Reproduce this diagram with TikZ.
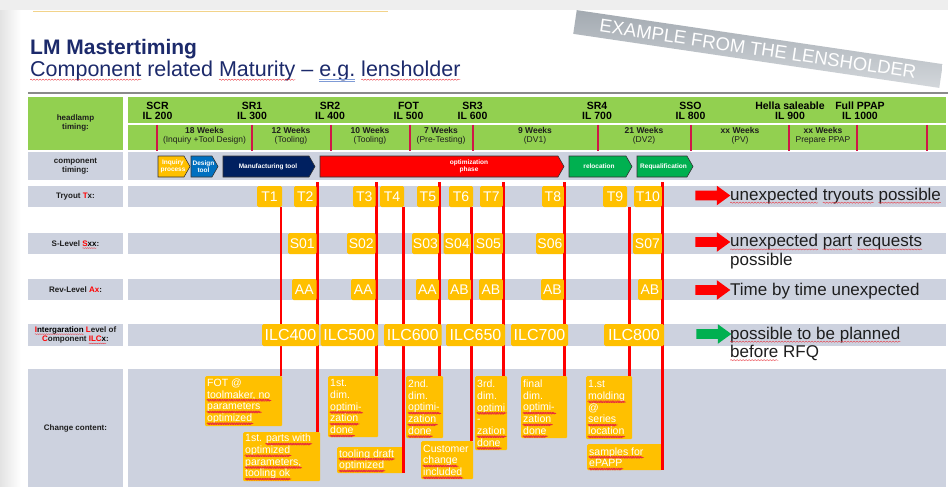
\documentclass[tikz,border=0pt]{standalone}
\usepackage{fontspec}
\setmainfont{Liberation Sans}
\usetikzlibrary{shapes.arrows,decorations.pathmorphing}

\definecolor{pagegray}{HTML}{EEEEEE}
\definecolor{titlenavy}{HTML}{1C2A6B}
\definecolor{hdrgreen}{HTML}{92D050}
\definecolor{rowgray}{HTML}{CDD2DF}
\definecolor{boxyellow}{HTML}{FFC000}
\definecolor{tickred}{HTML}{D01848}
\definecolor{chevblue}{HTML}{0070C0}
\definecolor{chevnavy}{HTML}{002060}
\definecolor{chevgreen}{HTML}{00B050}
\definecolor{darktext}{HTML}{1E1E1E}
\definecolor{egblue}{HTML}{7F9BD6}
\definecolor{rulegray}{HTML}{8A8A8A}
\definecolor{bannerdark}{HTML}{A3AAB1}
\definecolor{bannerlight}{HTML}{D3D7DB}
\definecolor{hairyellow}{HTML}{F2D38A}
\definecolor{wavered}{HTML}{E8303A}

\tikzset{
  lbl/.style={font=\fontsize{8}{9.3}\selectfont\bfseries, text=darktext, align=center, inner sep=0pt},
  ms/.style={font=\fontsize{10.5}{10}\selectfont\bfseries, text=black, inner sep=0pt, anchor=base},
  wkb/.style={font=\fontsize{8.5}{9}\selectfont\bfseries, text=darktext, inner sep=0pt, anchor=base},
  wkr/.style={font=\fontsize{8.5}{9}\selectfont, text=darktext, inner sep=0pt, anchor=base},
  chev/.style={draw=black!80, line width=0.6pt},
  chevtxt/.style={font=\fontsize{6.5}{7.3}\selectfont\bfseries, text=white, align=center, inner sep=0pt},
  ybox/.style={fill=boxyellow, rounded corners=1.5pt, text=white, inner sep=0pt, font=\fontsize{14}{16}\selectfont},
  ilcbox/.style={ybox, font=\fontsize{16}{18}\selectfont},
  cbox/.style={fill=boxyellow, rounded corners=1.2pt, text=white, inner xsep=2pt, inner ysep=0pt,
    anchor=north west, font=\fontsize{10.5}{11.7}\selectfont},
  redline/.style={draw=red, line width=2.6pt},
  note/.style={font=\fontsize{17}{19}\selectfont, text=darktext, inner sep=0pt, anchor=base west},
  bigarrow/.style={single arrow, minimum height=35pt, inner xsep=0pt, inner ysep=4.6pt,
    single arrow head extend=5pt, single arrow tip angle=72},
  banner/.style={rotate=-8.4, top color=bannerdark, bottom color=bannerlight, minimum width=370pt,
    minimum height=24pt, inner sep=0pt, text=white, font=\fontsize{18.5}{20}\selectfont},
  title1/.style={anchor=base west, inner sep=0pt, font=\fontsize{21}{24}\selectfont\bfseries, text=titlenavy},
  title2/.style={anchor=base west, inner sep=0pt, font=\fontsize{21.5}{24}\selectfont, text=titlenavy},
  wavyin/.style={inner sep=0pt, outer sep=0pt, minimum width=0pt, minimum height=0pt,
    fill=none, draw=none, rounded corners=0pt, shape=rectangle, anchor=base}
}

% red spell-check waves under a word: offset, amplitude, segment length, text
\newcommand\wavymark[4]{\tikz[baseline=(wvt.base)]{\node[wavyin] (wvt) {#4};%
  \draw[overlay, wavered, line width=0.35pt, decorate, decoration={snake, amplitude=#2pt, segment length=#3pt}]
    ([yshift=-#1pt]wvt.base west) -- ([yshift=-#1pt]wvt.base east);}}
\newcommand\wavy[1]{\wavymark{2.2}{0.45}{2.4}{#1}}
\newcommand\wavyb[1]{\wavymark{2.7}{0.6}{3}{#1}}
\newcommand\wavys[1]{\wavymark{1.7}{0.4}{2.2}{#1}}
\newcommand\egmark{\tikz[baseline=(egt.base)]{\node[wavyin] (egt) {e.g.};%
  \draw[overlay, egblue, line width=0.5pt] ([yshift=-2.4pt]egt.base west) -- ([yshift=-2.4pt]egt.base east)
    ([yshift=-4pt]egt.base west) -- ([yshift=-4pt]egt.base east);}}

% milestone label (two lines)
\newcommand\milestone[4]{\node[ms] (#1) at (#2,110) {#3};\node[ms] (#1-il) at (#2,119.5) {#4};}
% week span label (two lines)
\newcommand\weeks[4]{\node[wkb] (#1) at (#2,133) {#3};\node[wkr] (#1-sub) at (#2,142) {#4};}
% pentagon phase arrow: name, x1, x2, fill, text x, text
\newcommand\chevron[6]{\draw[chev, fill=#4] (#2,156) -- (#3-6,156) -- (#3,166.5) -- (#3-6,177) -- (#2,177) -- cycle;
  \node[chevtxt] (#1) at (#5,166.5) {#6};}
% yellow tag: [style] name, x1, x2, y1, y2, text
\newcommand\ybx[7][ybox]{\pgfmathsetmacro\yboxw{#4-#3}\pgfmathsetmacro\yboxh{#6-#5}%
  \node[#1, minimum width=\yboxw pt, minimum height=\yboxh pt] (#2) at ({(#3+#4)/2},{(#5+#6)/2}) {#7};}
% change-content box: name, x1, x2, y1, y2, text
\newcommand\cbx[6]{\pgfmathsetmacro\cboxw{#3-#2-4}\pgfmathsetmacro\cboxh{#5-#4}%
  \node[cbox, minimum height=\cboxh pt] (#1) at (#2,#4)
    {\parbox{\cboxw pt}{\raggedright\hyphenpenalty=10000 #6}};}

\begin{document}
\begin{tikzpicture}[x=1pt,y=-1pt]
\useasboundingbox (0,0) rectangle (948,487);

% page
\fill[white] (0,0) rectangle (948,487);
\fill[pagegray] (0,0) rectangle (948,10.5);
\shade[left color=black!11, right color=white] (0,10.5) rectangle (21,487);
\draw[hairyellow, line width=0.8pt] (33,11.2) -- (388,11.2);
\draw[rulegray, line width=2.2pt] (28,93.3) -- (948,93.3);

% title
\node[title1] (title) at (30,55) {LM Mastertiming};
\node[title2] (subtitle) at (30,77) {\wavyb{Component} related \wavyb{Maturity} – \egmark{} \wavyb{lensholder}};
\node[banner] (banner) at (758,49) {EXAMPLE FROM THE LENSHOLDER};

% table rows
\fill[hdrgreen] (28,97) rectangle (123,150);
\fill[hdrgreen] (128,97) rectangle (946,123);
\fill[hdrgreen] (128,124.8) rectangle (946,150);
\foreach \ya/\yb in {152/180, 186/207, 233/254, 279/300, 324/346, 369/487} {
  \fill[rowgray] (28,\ya) rectangle (123,\yb);
  \fill[rowgray] (128,\ya) rectangle (946,\yb);
}

% headlamp timing
\node[lbl] (hdr) at (75.5,123) {headlamp\\timing:};
\milestone{scr}{157.5}{SCR}{IL 200}
\milestone{sr1}{252}{SR1}{IL 300}
\milestone{sr2}{330}{SR2}{IL 400}
\milestone{fot}{408.5}{FOT}{IL 500}
\milestone{sr3}{472.5}{SR3}{IL 600}
\milestone{sr4}{597}{SR4}{IL 700}
\milestone{sso}{690.5}{SSO}{IL 800}
\milestone{hella}{790}{Hella saleable}{IL 900}
\milestone{ppap}{860}{Full PPAP}{IL 1000}
\foreach \x in {157,252,331,410,473,598,691,789,857,927}
  \draw[tickred, line width=2pt] (\x,124.8) -- (\x,150.8);
\weeks{w1}{204.5}{18 Weeks}{(Inquiry +Tool Design)}
\weeks{w2}{291}{12 Weeks}{(Tooling)}
\weeks{w3}{370}{10 Weeks}{(Tooling)}
\weeks{w4}{441}{7 Weeks}{(Pre-Testing)}
\weeks{w5}{535}{9 Weeks}{(DV1)}
\weeks{w6}{644}{21 Weeks}{(DV2)}
\weeks{w7}{740}{xx Weeks}{(PV)}
\weeks{w8}{823}{xx Weeks}{Prepare PPAP}

% component timing
\node[lbl] (comp) at (75.5,166.5) {component\\timing:};
\chevron{inq}{158}{190}{boxyellow}{173}{Inquiry\\process}
\chevron{des}{191}{218}{chevblue}{203.5}{Design\\tool}
\chevron{mfg}{223}{315}{chevnavy}{268}{Manufacturing tool}
\chevron{opt}{320}{564}{red}{469}{optimization\\phase}
\chevron{reloc}{569}{632}{chevgreen}{599}{relocation}
\chevron{requal}{637}{693}{chevgreen}{663.5}{Requalification}

% row labels
\node[lbl] (try) at (75.5,197) {Tryout \textcolor{red}{T}x:};
\node[lbl] (slev) at (75.5,243.5) {S-Level \wavys{\textcolor{red}{S}xx}:};
\node[lbl] (rev) at (75.5,290) {Rev-Level \textcolor{red}{Ax}:};
\node[lbl] (ilc) at (75.5,335) {\wavys{\textcolor{red}{I}ntergaration} \textcolor{red}{L}evel of\\\textcolor{red}{C}omponent \wavys{\textcolor{red}{ILC}x}:};
\node[lbl] (chg) at (75.5,428) {Change content:};

% change content
\cbx{c1}{205}{282}{376}{426}{FOT @\\\wavy{toolmaker, no}\\\wavy{parameters}\\\wavy{optimized}}
\cbx{c2}{243}{320}{432}{481}{1st. \wavy{parts with}\\\wavy{optimized}\\\wavy{parameters,}\\\wavy{tooling ok}}
\cbx{c3}{328}{378}{376}{437}{1st.\\dim.\\\wavy{optimi-}\\\wavy{zation}\\\wavy{done}}
\cbx{c4}{337}{403}{447}{473}{\wavy{tooling draft}\\\wavy{optimized}}
\cbx{c5}{406}{443}{376}{438}{2nd.\\dim.\\\wavy{optimi-}\\\wavy{zation}\\\wavy{done}}
\cbx{c6}{421}{473}{441}{479}{Customer\\\wavy{change}\\\wavy{included}}
\cbx{c7}{475}{507}{376}{450}{3rd.\\dim.\\\wavy{optimi}\\-\\\wavy{zation}\\\wavy{done}}
\cbx{c8}{521}{567}{376}{438}{final\\dim.\\\wavy{optimi-}\\\wavy{zation}\\\wavy{done}}
\cbx{c9}{586}{632}{376}{439}{1.st\\\wavy{molding}\\@\\\wavy{series}\\\wavy{location}}
\cbx{c10}{587}{662}{444}{470}{\wavy{samples for}\\\wavy{ePAPP}}

% tryout lines down to the change content
\coordinate (la) at (281,207);
\coordinate (lb) at (317.3,182);
\coordinate (lc) at (376.3,182);
\coordinate (ld) at (403.6,207);
\coordinate (le) at (439.5,182);
\coordinate (lf) at (471.5,207);
\coordinate (lg) at (503.5,182);
\coordinate (lh) at (564.5,182);
\coordinate (li) at (629.5,207);
\coordinate (lj) at (662.6,182);
\draw[redline] (la) -- (la |- c1.north);
\draw[redline] (lb) -- (lb |- c2.north);
\draw[redline] (lc) -- (lc |- c3.north);
\draw[redline] (ld) -- (ld |- c4.south);
\draw[redline] (le) -- (le |- c5.north);
\draw[redline] (lf) -- (lf |- c6.north);
\draw[redline] (lg) -- (lg |- c7.north);
\draw[redline] (lh) -- (lh |- c8.north);
\draw[redline] (li) -- (li |- c9.north);
\draw[redline] (lj) -- (lj |- c10.south);

% tryouts
\ybx{T1}{257}{282}{186}{207}{T1}
\ybx{T2}{294}{316.5}{186}{207}{T2}
\ybx{T3}{353}{375.5}{186}{207}{T3}
\ybx{T4}{380}{404}{186}{207}{T4}
\ybx{T5}{417}{438.8}{186}{207}{T5}
\ybx{T6}{449}{473}{186}{207}{T6}
\ybx{T7}{480}{502.8}{186}{207}{T7}
\ybx{T8}{542}{563.8}{186}{207}{T8}
\ybx{T9}{603}{627}{186}{207}{T9}
\ybx{T10}{634}{661.8}{186}{207}{T10}

% S-levels
\ybx{S01}{288}{316.5}{233}{254}{S01}
\ybx{S02}{347}{375.5}{233}{254}{S02}
\ybx{S03}{412}{438.8}{233}{254}{S03}
\ybx{S04}{443.5}{470.8}{233}{254}{S04}
\ybx{S05}{474}{502.8}{233}{254}{S05}
\ybx{S06}{536}{563.8}{233}{254}{S06}
\ybx{S07}{633}{661.8}{233}{254}{S07}

% revision levels
\ybx{A1}{292}{316.5}{279}{300}{AA}
\ybx{A2}{351}{375.5}{279}{300}{AA}
\ybx{A3}{416}{438.8}{279}{300}{AA}
\ybx{A4}{448}{470.8}{279}{300}{AB}
\ybx{A5}{479}{502.8}{279}{300}{AB}
\ybx{A6}{541}{563.8}{279}{300}{AB}
\ybx{A7}{638}{661.8}{279}{300}{AB}

% integration levels
\ybx[ilcbox]{I1}{262}{319}{324}{346}{ILC400}
\ybx[ilcbox]{I2}{320.5}{378}{324}{346}{ILC500}
\ybx[ilcbox]{I3}{384}{441.5}{324}{346}{ILC600}
\ybx[ilcbox]{I4}{446}{505}{324}{346}{ILC650}
\ybx[ilcbox]{I5}{511}{568}{324}{346}{ILC700}
\ybx[ilcbox]{I6}{604}{664}{324}{346}{ILC800}

% assessments
\node[bigarrow, fill=red] (arr1) at (709.5,195.5) {};
\node[bigarrow, fill=red] (arr2) at (709.5,242) {};
\node[bigarrow, fill=red] (arr3) at (709.5,290) {};
\node[bigarrow, fill=chevgreen] (arr4) at (710.5,334) {};
\node[note] (n1) at (730,200) {\wavyb{unexpected} \wavyb{tryouts} \wavyb{possible}};
\node[note] (n2) at (730,246.7) {\wavyb{unexpected} \wavyb{part} \wavyb{requests}};
\node[note] (n2b) at (730,265) {possible};
\node[note] (n3) at (730,295) {Time by time unexpected};
\node[note] (n4) at (730,339) {\wavyb{possible to be planned}};
\node[note] (n4b) at (730,357.5) {\wavyb{before} RFQ};
\end{tikzpicture}
\end{document}
